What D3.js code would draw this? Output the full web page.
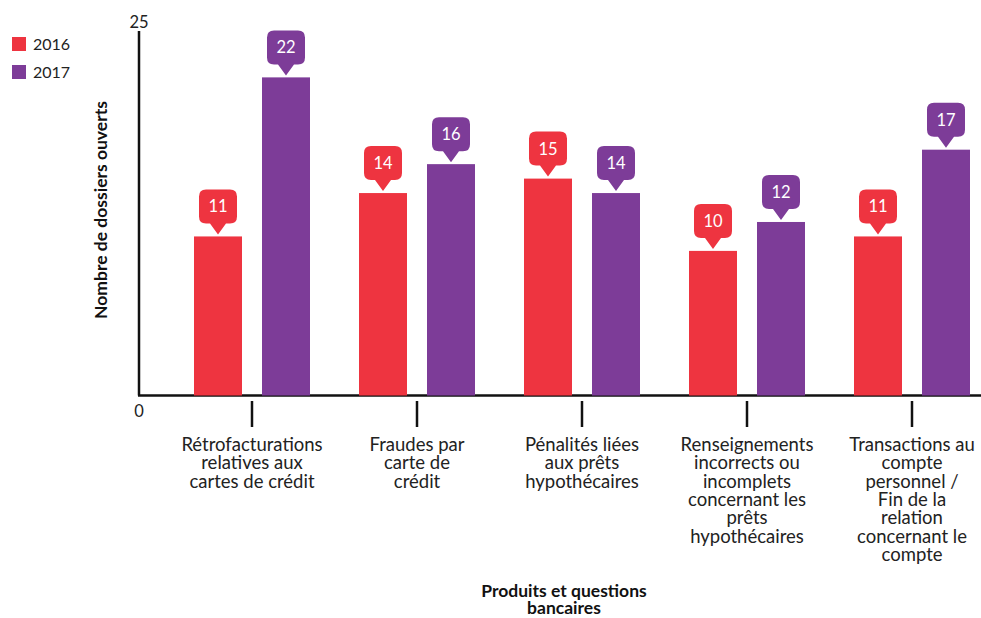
<!DOCTYPE html>
<html>
<head>
<meta charset="utf-8">
<script src="https://cdn.jsdelivr.net/npm/d3@7"></script>
<style>
  body { margin: 0; background: #fff; }
  text { font-family: Lato, "Open Sans", sans-serif; }
</style>
</head>
<body>
<svg id="chart" width="981" height="618"></svg>
<script>
var categories = [
  ["Rétrofacturations", "relatives aux", "cartes de crédit"],
  ["Fraudes par", "carte de", "crédit"],
  ["Pénalités liées", "aux prêts", "hypothécaires"],
  ["Renseignements", "incorrects ou", "incomplets", "concernant les", "prêts", "hypothécaires"],
  ["Transactions au", "compte", "personnel /", "Fin de la", "relation", "concernant le", "compte"]
];
var years = ["2016", "2017"];
var values2016 = [11, 14, 15, 10, 11];
var values2017 = [22, 16, 14, 12, 17];
var yTicks = [0, 25];
var colors = {"2016": "#ee3440", "2017": "#7d3c98"};

var svg = d3.select("#chart");
var series = {"2016": values2016, "2017": values2017};

var x = d3.scaleBand().domain(d3.range(categories.length)).range([169.5, 994.5]);
var y = d3.scaleLinear().domain([0, 25]).range([395.5, 34]);
var barW = 48, gap = 20;

// axes
svg.append("line").attr("x1", 139).attr("x2", 139).attr("y1", y(25) - 3).attr("y2", y(0))
  .attr("stroke", "#111").attr("stroke-width", 2.5);
svg.append("line").attr("x1", 138).attr("x2", 981).attr("y1", y(0)).attr("y2", y(0))
  .attr("stroke", "#111").attr("stroke-width", 2.5);

svg.selectAll(".ytick").data(yTicks).enter().append("text")
  .attr("x", 139)
  .attr("y", function(d){ return d == 0 ? y(d) + 21 : y(d) - 6; })
  .attr("text-anchor", "middle").attr("font-size", 16.5).attr("fill", "#222")
  .text(function(d){ return d; });

// bars
years.forEach(function(yr, k){
  var data = series[yr];
  var off = k == 0 ? -gap/2 - barW : gap/2;
  svg.selectAll(".bar" + yr).data(data).enter().append("rect")
    .attr("x", function(d, i){ return x(i) + x.bandwidth()/2 + off; })
    .attr("y", function(d){ return y(d); })
    .attr("width", barW)
    .attr("height", function(d){ return y(0) - y(d); })
    .attr("fill", colors[yr]);

  var g = svg.selectAll(".lab" + yr).data(data).enter().append("g")
    .attr("transform", function(d, i){
      return "translate(" + (x(i) + x.bandwidth()/2 + off + barW/2) + "," + (y(d) - 2) + ")";
    });
  // callout: rounded box + pointer
  g.append("path")
    .attr("d", "M-8,-11 L0,0 L8,-11 L12,-11 Q19,-11 19,-18 L19,-38 Q19,-45 12,-45 L-12,-45 Q-19,-45 -19,-38 L-19,-18 Q-19,-11 -12,-11 Z")
    .attr("fill", colors[yr]);
  g.append("text").attr("y", -22).attr("text-anchor", "middle")
    .attr("font-size", 16.5).attr("fill", "#fff")
    .text(function(d){ return d; });
});

// category ticks and labels
var cat = svg.selectAll(".cat").data(categories).enter().append("g")
  .attr("transform", function(d, i){ return "translate(" + (x(i) + x.bandwidth()/2) + ",0)"; });
cat.append("line").attr("y1", 401).attr("y2", 427).attr("stroke", "#111").attr("stroke-width", 2.5);
cat.each(function(lines){
  var t = d3.select(this).append("text").attr("text-anchor", "middle")
    .attr("font-size", 18.5).attr("fill", "#222");
  lines.forEach(function(l, j){
    t.append("tspan").attr("x", 0).attr("y", 451 + j * 18.3).text(l);
  });
});

// axis titles
svg.append("text").attr("transform", "translate(107,210) rotate(-90)")
  .attr("text-anchor", "middle").attr("font-size", 17.5).attr("font-weight", "bold").attr("fill", "#111")
  .text("Nombre de dossiers ouverts");
var xt = svg.append("text").attr("text-anchor", "middle").attr("font-size", 17.5)
  .attr("font-weight", "bold").attr("fill", "#111");
xt.append("tspan").attr("x", 564).attr("y", 597).text("Produits et questions");
xt.append("tspan").attr("x", 564).attr("y", 614).text("bancaires");

// legend
var leg = svg.selectAll(".leg").data(years).enter().append("g")
  .attr("transform", function(d, i){ return "translate(12," + (37 + i * 28) + ")"; });
leg.append("rect").attr("width", 14).attr("height", 14).attr("fill", function(d){ return colors[d]; });
leg.append("text").attr("x", 21).attr("y", 13).attr("font-size", 16).attr("fill", "#222")
  .text(function(d){ return d; });
</script>
</body>
</html>
